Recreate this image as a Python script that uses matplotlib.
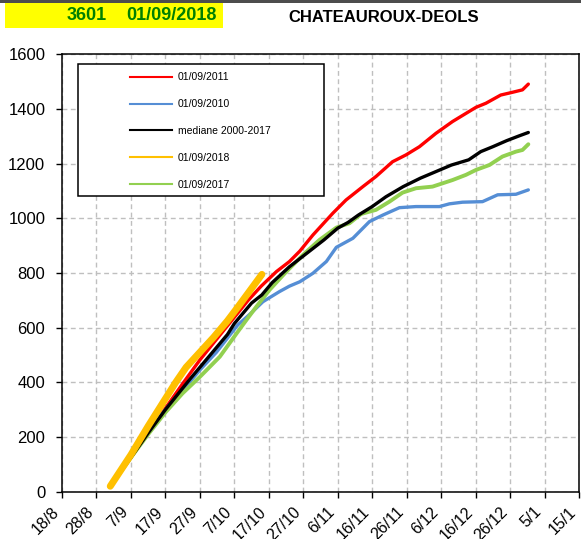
"""Cumulative curves since 01/09 - station 3601 CHATEAUROUX-DEOLS."""

import matplotlib

matplotlib.use("Agg")
import matplotlib.pyplot as plt
import matplotlib.transforms as mtransforms
from matplotlib.lines import Line2D
from matplotlib.patches import Rectangle

# x = days after 18/8
TICK_DAYS = list(range(0, 151, 10))
TICK_LABELS = ["18/8", "28/8", "7/9", "17/9", "27/9", "7/10", "17/10", "27/10",
               "6/11", "16/11", "26/11", "6/12", "16/12", "26/12", "5/1", "15/1"]

red_x = [14, 20, 25, 30, 35, 40, 45, 50, 54, 57.8, 62.2, 66, 69, 72.8, 78.6, 82.4, 87.3,
         91.1, 95.9, 99.8, 103.7, 108.5, 113.3, 120.1, 123, 127.3, 130.7, 133.6, 135.3]
red_y = [20, 128, 220, 305, 395, 482, 560, 638, 700, 752, 805, 842, 880, 939, 1019, 1067, 1116,
         1153, 1207, 1232, 1262, 1311, 1354, 1406, 1421, 1451, 1461, 1470, 1491]

blue_x = [14, 20, 27, 33, 38, 40, 44.8, 51, 54.4, 58.3, 63.1, 66, 69, 72.8, 76.7, 79.6, 84.4,
          89.2, 93.1, 97.9, 102.7, 109.5, 112.4, 116.2, 122, 126.4, 131.7, 135.3]
blue_y = [20, 130, 255, 345, 415, 445, 510, 610, 648, 695, 732, 752, 768, 799, 842, 894, 927,
          988, 1012, 1039, 1043, 1043, 1053, 1059, 1061, 1086, 1088, 1104]

med_x = [14, 20, 25, 30, 37, 43, 48, 50, 53, 55, 58, 61, 66, 71, 76, 80, 83, 86, 90, 94, 99,
         104, 108.5, 113, 118, 121.5, 125, 129, 132.5, 135.3]
med_y = [20, 125, 215, 300, 410, 500, 575, 615, 660, 690, 720, 765, 823, 872, 921, 964, 985,
         1012, 1043, 1079, 1116, 1147, 1171, 1195, 1214, 1244, 1262, 1284, 1301, 1314]

y2018_x = [14, 20, 25, 29, 33, 36, 40, 44, 48, 51, 54.5, 58]
y2018_y = [20, 135, 240, 320, 400, 455, 510, 565, 625, 675, 735, 795]

y2017_x = [14, 20, 25, 30, 35, 40, 45.8, 50.6, 53.5, 56.4, 60.2, 65.1, 69.9, 74.7, 79.6, 83.4,
           86.8, 91.1, 95, 98.8, 102.7, 107.5, 110.4, 113.3, 117.2, 120.1, 124, 127.8, 131.7,
           133.6, 135.3]
y2017_y = [20, 125, 210, 290, 360, 420, 494, 578, 628, 677, 738, 805, 866, 921, 966, 982,
           1016, 1031, 1061, 1094, 1110, 1116, 1128, 1140, 1159, 1177, 1195, 1226, 1244,
           1250, 1271]

SERIES = [
    ("01/09/2011", red_x, red_y, "#FF0000", 2.4),
    ("01/09/2010", blue_x, blue_y, "#558ED5", 2.4),
    ("mediane 2000-2017", med_x, med_y, "#000000", 2.4),
    ("01/09/2018", y2018_x, y2018_y, "#FFC000", 5.0),
    ("01/09/2017", y2017_x, y2017_y, "#92D050", 2.8),
]
DRAW_ORDER = [0, 1, 4, 2, 3]

plt.rcParams["font.family"] = ["Liberation Sans", "DejaVu Sans"]

fig = plt.figure(figsize=(5.81, 5.39), dpi=100)
ax = fig.add_axes([62 / 581, 1 - 491.7 / 539, 517 / 581, 437.4 / 539])

for z, i in enumerate(DRAW_ORDER):
    label, xs, ys, color, lw = SERIES[i]
    ax.plot(xs, ys, color=color, lw=lw, solid_capstyle="round", solid_joinstyle="round", zorder=3 + z)

ax.set_xlim(0, 150)
ax.set_ylim(0, 1600)
ax.set_xticks(TICK_DAYS)
ax.set_xticklabels(TICK_LABELS, rotation=45, ha="right", rotation_mode="default", fontsize=11.5)
shift = mtransforms.ScaledTranslation(5 / 100, 0, fig.dpi_scale_trans)
for lab in ax.get_xticklabels():
    lab.set_transform(lab.get_transform() + shift)
ax.set_yticks(range(0, 1601, 200))
ax.tick_params(axis="y", labelsize=12, length=4, width=1, direction="out", pad=8)
ax.tick_params(axis="x", length=4, width=1, direction="out", pad=5)
ax.grid(True, color="#BFBFBF", linestyle=(0, (3.5, 2.5)), linewidth=1.0, zorder=0)
ax.set_axisbelow(True)
for sp in ax.spines.values():
    sp.set_linewidth(1.1)
    sp.set_color("black")

# legend: thin handles inside a black box
ax.add_patch(Rectangle((16 / 517, 1 - 141.7 / 437.4), 246 / 517, 132 / 437.4, transform=ax.transAxes,
                       facecolor="white", edgecolor="black", lw=1.1, zorder=10))
handles = [Line2D([], [], color=c, lw=1.5) for _, _, _, c, _ in SERIES]
leg = ax.legend(handles, [s[0] for s in SERIES], loc="upper left",
                bbox_to_anchor=(68 / 517, 1 - 18 / 437.4), frameon=False, fontsize=7.5,
                handlelength=4.0, handletextpad=0.6, labelspacing=1.62, borderpad=0, borderaxespad=0)
leg.set_zorder(11)

# header
fig.patches.append(Rectangle((0, 1 - 3 / 539), 1, 3 / 539, transform=fig.transFigure,
                             facecolor="#4D4D4D", edgecolor="none"))
fig.patches.append(Rectangle((5 / 581, 1 - 28 / 539), 218 / 581, 25 / 539, transform=fig.transFigure,
                             facecolor="#FFFF00", edgecolor="none"))
fig.text(107 / 581, 1 - 16 / 539, "3601", color="#008000", fontsize=13, fontweight="bold",
         ha="right", va="center")
fig.text(217 / 581, 1 - 16 / 539, "01/09/2018", color="#008000", fontsize=13, fontweight="bold",
         ha="right", va="center")
fig.text(384 / 581, 1 - 17 / 539, "CHATEAUROUX-DEOLS", color="black", fontsize=12, fontweight="bold",
         ha="center", va="center")

fig.savefig("out.png", dpi=100)
